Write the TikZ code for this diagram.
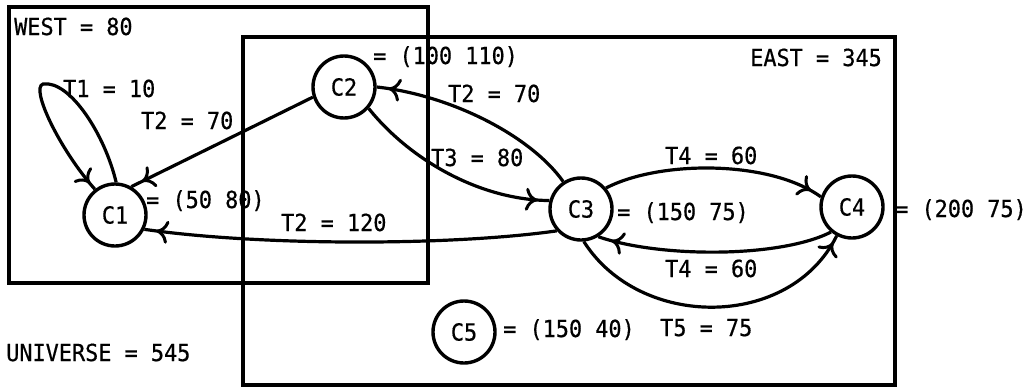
\documentclass[tikz,border=0pt]{standalone}
\usepackage{fontspec}
\setmainfont{DejaVu Sans Mono}[FakeStretch=0.93,FakeBold=0.6]
\usetikzlibrary{arrows.meta,decorations.markings}
\begin{document}
\begin{tikzpicture}[x=1pt,y=-1pt,
  every node/.style={font=\fontsize{23.5}{27}\selectfont},
  state/.style={circle,draw,line width=3.4pt,minimum size=62pt,inner sep=0pt},
  box/.style={draw,line width=3.2pt},
  lbl/.style={inner sep=0pt,anchor=base west},
  edge/.style={draw,line width=3.2pt},
  tipat/.style={postaction={decorate},decoration={markings,mark=at position #1 with {\arrow[line width=3pt]{Computer Modern Rightarrow[length=12pt,width=23pt]}}}}
]
\useasboundingbox (0,0) rectangle (1032,388);
% regions
\draw[box] (9,7) rectangle (428,283);
\draw[box] (243,37) rectangle (895,385);
\node[lbl] (lwest) at (14,35) {WEST = 80};
\node[lbl,anchor=base east] (least) at (882,66) {EAST = 345};
\node[lbl] (luni) at (6,361) {UNIVERSE = 545};
% states
\node[state] (C1) at (115,215) {C1};
\node[state] (C2) at (344,87) {C2};
\node[state] (C3) at (581,209) {C3};
\node[state] (C4) at (852,207) {C4};
\node[state] (C5) at (464,332) {C5};
% state values
\node[lbl] (v1) at (146,208) {= (50 80)};
\node[lbl] (v2) at (373,64) {= (100 110)};
\node[lbl] (v3) at (617,220) {= (150 75)};
\node[lbl] (v4) at (895,217) {= (200 75)};
\node[lbl] (v5) at (503,337) {= (150 40)};
% transitions
\draw[edge,tipat=-8pt] (C1.88) .. controls (105,135) and (70,80) .. (43,84) .. controls (30,88) and (60,150) .. (C1.128);
\draw[edge,tipat=-12pt] (C2.198) -- (C1.60);
\draw[edge,tipat=-12pt] (C3.123) .. controls (530,135) and (450,95) .. (C2.0);
\draw[edge,tipat=-12pt] (C2.-41) .. controls (410,160) and (480,200) .. (C3.165);
\draw[edge,tipat=-12pt] (C3.222) .. controls (450,246) and (260,246) .. (C1.-26);
\draw[edge,tipat=-12pt] (C3.40) .. controls (660,160) and (770,160) .. (C4.162);
\draw[edge,tipat=-14pt] (C4.230) .. controls (780,258) and (660,258) .. (C3.-58);
\draw[edge,tipat=-8pt] (C3.-85) .. controls (640,330) and (790,330) .. (C4.-118);
% transition labels
\node[lbl] (t1) at (63,97) {T1 = 10};
\node[lbl] (t2a) at (141,129) {T2 = 70};
\node[lbl] (t2b) at (448,102) {T2 = 70};
\node[lbl] (t3) at (431,166) {T3 = 80};
\node[lbl] (t2c) at (281,231) {T2 = 120};
\node[lbl] (t4a) at (665,164) {T4 = 60};
\node[lbl] (t4b) at (665,277) {T4 = 60};
\node[lbl] (t5) at (660,336) {T5 = 75};
\end{tikzpicture}
\end{document}
